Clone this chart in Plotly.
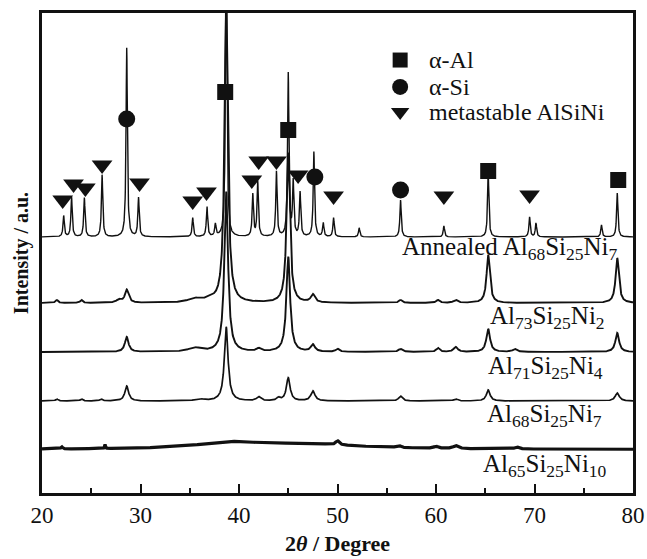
import numpy as np
import plotly.graph_objects as go

# ---------------- data ----------------
two_theta = np.round(np.arange(20.0, 80.0001, 0.02), 3)

# Annealed Al68Si25Ni7
ann_base = 256
ann_pos = [22.2, 23.0, 24.3, 26.1, 28.6, 29.8, 35.3, 36.75, 37.6, 38.7, 41.4, 41.9, 43.8,
           45.0, 45.5, 46.2, 47.6, 48.55, 49.6, 52.2, 56.4, 60.8, 65.3, 69.5, 70.15, 76.8, 78.4]
ann_hgt = [21, 40, 39, 62, 189, 39, 19, 30, 12, 320, 42, 55, 65,
           163, 54, 44, 85, 14, 19, 9, 37, 11, 64, 20, 14, 12, 44]
ann_wid = [0.16] * len(ann_pos)

# Al73Si25Ni2
a73_base = 190
a73_pos = [21.5, 24.0, 27.8, 28.6, 35.5, 37.0, 38.7, 45.0, 47.5, 56.4, 60.2, 62.0, 65.3, 78.4]
a73_hgt = [3, 3, 3, 13, 4, 3, 300, 150, 8, 3, 3, 3, 48, 45]
a73_wid = [0.3, 0.3, 0.6, 0.45, 1.5, 1.0, 0.4, 0.4, 0.5, 0.4, 0.4, 0.5, 0.4, 0.4]

# Al71Si25Ni4
a71_base = 141
a71_pos = [28.6, 35.5, 38.7, 42.0, 45.0, 47.5, 50.0, 56.4, 60.2, 62.0, 65.3, 68.0, 78.4]
a71_hgt = [15, 4, 160, 3, 95, 7, 3, 3, 4, 5, 23, 3, 19]
a71_wid = [0.45, 1.5, 0.45, 0.5, 0.45, 0.5, 0.4, 0.5, 0.4, 0.5, 0.45, 0.5, 0.45]

# Al68Si25Ni7
a68_base = 92
a68_pos = [21.5, 24.0, 26.0, 28.6, 36.0, 38.7, 42.0, 44.0, 45.0, 47.5, 56.4, 62.0, 65.3, 78.4]
a68_hgt = [2, 2, 2, 15, 2, 74, 4, 3, 23, 10, 5, 2, 11, 8]
a68_wid = [0.3, 0.3, 0.3, 0.45, 1.0, 0.45, 0.5, 0.4, 0.45, 0.5, 0.45, 0.5, 0.45, 0.5]

# Al65Si25Ni10 (amorphous, broad hump)
a65_base = 43.5
a65_pos = [39.0, 47.0, 22.0, 26.4, 50.0, 56.2, 60.0, 62.0, 68.2]
a65_hgt = [6, 5, 2, 4, 4, 2, 2, 3, 2]
a65_wid = [8.0, 13.0, 0.2, 0.1, 0.4, 0.5, 0.5, 0.6, 0.5]

# Phase markers (annealed pattern)
al_x = [38.6, 45.0, 65.3, 78.5]
al_y = [401, 363, 322, 313]
si_x = [28.6, 47.7, 56.4]
si_y = [374, 316, 303]
ms_x = [22.1, 23.2, 24.4, 26.1, 29.9, 35.3, 36.7, 41.3, 42.0, 43.8, 46.0, 49.6, 60.8, 69.5]
ms_y = [293, 309, 305, 328, 310, 292, 301, 313, 332, 332, 318, 297, 297, 298]

phase_names = ["\u03b1-Al", "\u03b1-Si", "metastable AlSiNi"]

sample_labels = ["Annealed Al<sub>68</sub>Si<sub>25</sub>Ni<sub>7</sub>",
                 "Al<sub>73</sub>Si<sub>25</sub>Ni<sub>2</sub>",
                 "Al<sub>71</sub>Si<sub>25</sub>Ni<sub>4</sub>",
                 "Al<sub>68</sub>Si<sub>25</sub>Ni<sub>7</sub>",
                 "Al<sub>65</sub>Si<sub>25</sub>Ni<sub>10</sub>"]
label_x = [78.7, 77.4, 77.2, 77.1, 77.6]
label_y = [245, 176, 126, 78, 28]

x_ticks = [20, 30, 40, 50, 60, 70, 80]


def pattern(base, pos, hgt, wid):
    y = np.full_like(two_theta, float(base))
    for p, h, w in zip(pos, hgt, wid):
        y += h / (1.0 + ((two_theta - p) / (w / 2.0)) ** 2)
    return y


FONT = "Liberation Serif, Times New Roman, serif"
INK = "#111111"
fig = go.Figure()

series = [
    (ann_base, ann_pos, ann_hgt, ann_wid, 1.4),
    (a73_base, a73_pos, a73_hgt, a73_wid, 1.9),
    (a71_base, a71_pos, a71_hgt, a71_wid, 1.9),
    (a68_base, a68_pos, a68_hgt, a68_wid, 1.7),
    (a65_base, a65_pos, a65_hgt, a65_wid, 3.2),
]
for base, pos, hgt, wid, lw in series:
    fig.add_trace(go.Scatter(x=two_theta, y=pattern(base, pos, hgt, wid), mode="lines",
                             line=dict(color=INK, width=lw), showlegend=False,
                             hoverinfo="skip"))

symbols = ["square", "circle", "triangle-down"]
sizes = [16, 17, 18]
for xs, ys, sym, sz in zip([al_x, si_x, ms_x], [al_y, si_y, ms_y], symbols, sizes):
    fig.add_trace(go.Scatter(x=xs, y=ys, mode="markers", showlegend=False,
                             marker=dict(symbol=sym, size=sz, color=INK)))

# key (legend) drawn on a hidden overlay axis spanning the plot area
key_y = [0.902, 0.846, 0.794]
key_sizes = [15, 16, 16]
for name, sym, ky, ks in zip(phase_names, symbols, key_y, key_sizes):
    fig.add_trace(go.Scatter(x=[0.606], y=[ky], xaxis="x2", yaxis="y2", mode="markers",
                             showlegend=False, hoverinfo="skip",
                             marker=dict(symbol=sym, size=ks, color=INK)))
    fig.add_annotation(x=0.652, y=ky, xref="paper", yref="paper", text=name,
                       showarrow=False, xanchor="left", yanchor="middle",
                       font=dict(family=FONT, size=24, color=INK))

for txt, lx, ly in zip(sample_labels, label_x, label_y):
    fig.add_annotation(x=lx, y=ly, text=txt, showarrow=False, xanchor="right",
                       yanchor="middle", font=dict(family=FONT, size=25, color=INK))

fig.update_layout(
    width=647, height=559,
    margin=dict(l=42, r=14, t=13, b=66),
    paper_bgcolor="white", plot_bgcolor="white",
    font=dict(family=FONT, color=INK),
    showlegend=False,
    xaxis=dict(range=[20, 80], tickvals=x_ticks, ticktext=[str(v) for v in x_ticks],
               automargin=False,
               ticks="inside", ticklen=9, tickwidth=2, tickcolor=INK,
               minor=dict(dtick=5, ticks="inside", ticklen=5, tickwidth=2, tickcolor=INK),
               showline=True, linewidth=2.5, linecolor=INK, mirror=True,
               showgrid=False, zeroline=False,
               tickfont=dict(family=FONT, size=23, color=INK),
               title=dict(text="<b>2<i>\u03b8</i> / Degree</b>", standoff=9,
                          font=dict(family=FONT, size=22, color=INK))),
    yaxis=dict(range=[0, 480], showticklabels=False, ticks="", automargin=False,
               showline=True, linewidth=2.5, linecolor=INK, mirror=True,
               showgrid=False, zeroline=False,
               title=dict(text="<b>Intensity / a.u.</b>", standoff=6,
                          font=dict(family=FONT, size=20, color=INK))),
    xaxis2=dict(range=[0, 1], overlaying="x", visible=False, fixedrange=True),
    yaxis2=dict(range=[0, 1], overlaying="y", visible=False, fixedrange=True),
)

fig.write_html("out.html")
